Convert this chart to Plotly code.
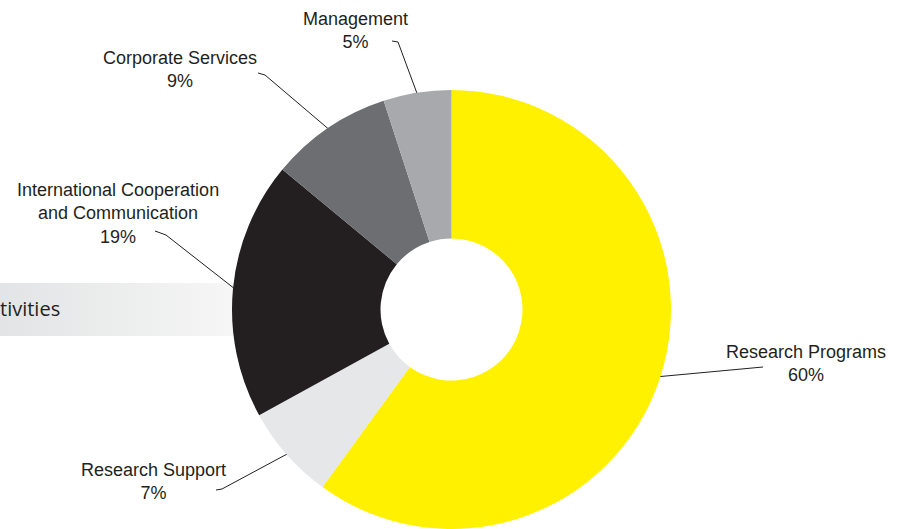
import math
import plotly.graph_objects as go

# ---- data ----
categories = ["Research Programs", "Research Support",
              "International Cooperation<br>and Communication",
              "Corporate Services", "Management"]
values = [60, 7, 19, 9, 5]
slice_colors = ["#FFF100", "#E6E7E8", "#231F20", "#6D6E71", "#A7A9AC"]
banner_text = "tivities"

# ---- layout geometry (pixels) ----
W, H = 900, 529
cx, cy, R = 451.5, 309.5, 219.5
hole_r = 71
ink = "#231F20"

# label block centres and leader-line elbows (pixel positions)
label_pos = [(806, 363.5), (153, 481.5), (118, 213), (180, 69.5), (355, 30.5)]
elbows = [
    [(763, 367)],
    [(216, 490), (222, 489)],
    [(155, 231), (166, 235)],
    [(258, 73), (265, 75)],
    [(392, 41), (398, 42)],
]

fig = go.Figure()

# banner gradient bar behind the pie
fig.add_trace(go.Scatter(
    x=[0, 245, 245, 0, 0], y=[283, 283, 336, 336, 283],
    mode="lines", line=dict(width=0), fill="toself",
    fillgradient=dict(type="horizontal",
                      colorscale=[[0, "#E3E4E5"], [1, "#F7F7F7"]]),
    hoverinfo="skip", showlegend=False))

# leader lines, ending at each slice's mid angle on the rim
total = sum(values)
cum = 0
for i, v in enumerate(values):
    mid = (cum + v / 2) / total * 2 * math.pi
    cum += v
    ex = cx + (R - 2) * math.sin(mid)
    ey = cy - (R - 2) * math.cos(mid)
    pts = elbows[i] + [(ex, ey)]
    fig.add_trace(go.Scatter(
        x=[p[0] for p in pts], y=[p[1] for p in pts],
        mode="lines", line=dict(color=ink, width=1),
        hoverinfo="skip", showlegend=False))

# donut
fig.add_trace(go.Pie(
    labels=categories, values=values, sort=False, direction="clockwise",
    rotation=0, hole=hole_r / R,
    marker=dict(colors=slice_colors, line=dict(width=0)),
    textinfo="none", hoverinfo="label+percent", showlegend=False,
    domain=dict(x=[(cx - R) / W, (cx + R) / W],
                y=[max(0, 1 - (cy + R) / H), 1 - (cy - R) / H])))

annotations = []
for (lx, ly), cat, v in zip(label_pos, categories, values):
    pct = round(v / total * 100)
    annotations.append(dict(
        x=lx, y=ly, xref="x", yref="y", text=f"{cat}<br>{pct}%",
        showarrow=False, xanchor="center", yanchor="middle", align="center",
        font=dict(family="Liberation Sans, Arial, sans-serif", size=18, color=ink)))

annotations.append(dict(
    x=62, y=308, xref="x", yref="y", text=banner_text, showarrow=False,
    xanchor="right", yanchor="middle",
    font=dict(family="Open Sans, sans-serif", size=20, color=ink)))

fig.update_layout(
    width=W, height=H, margin=dict(l=0, r=0, t=0, b=0),
    paper_bgcolor="white", plot_bgcolor="white",
    xaxis=dict(range=[0, W], visible=False, fixedrange=True, domain=[0, 1]),
    yaxis=dict(range=[H, 0], visible=False, fixedrange=True, domain=[0, 1]),
    annotations=annotations, showlegend=False)

fig.write_html("out.html")
